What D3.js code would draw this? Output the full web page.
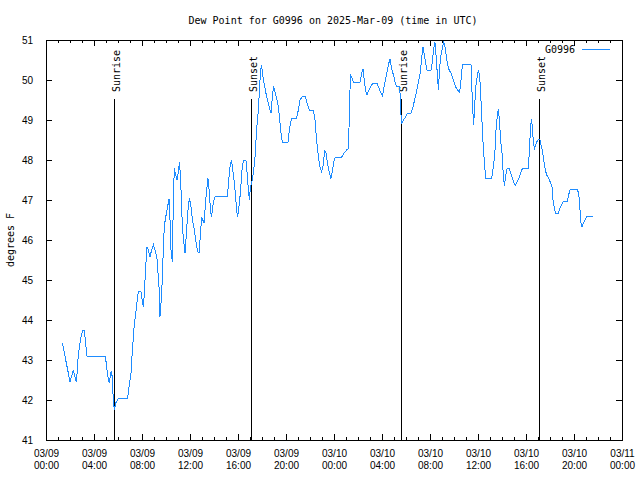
<!DOCTYPE html>
<html>
<head>
<meta charset="utf-8">
<script src="https://cdn.jsdelivr.net/npm/d3@7"></script>
<style>
  body { margin: 0; background: #fff; }
  svg { display: block; font-family: "DejaVu Sans Mono", monospace; font-size: 10px; }
  .domain { display: none; }
</style>
</head>
<body>
<svg id="chart" width="640" height="480"></svg>
<script>
// minutes after 2025-03-09 00:00 UTC
const minutes = [
  82, 120, 137, 148, 153, 158, 165, 172, 182, 192, 198, 205, 297, 303, 312, 317, 323, 328, 332, 337,
  342, 348, 362, 408, 415, 425, 432, 442, 450, 458, 462, 475, 482, 487, 492, 498, 505, 512, 520, 528,
  537, 545, 555, 565, 570, 575, 582, 588, 595, 602, 608, 615, 618, 625, 632, 637, 642, 648, 655, 662,
  668, 675, 682, 688, 695, 702, 712, 718, 725, 732, 742, 748, 758, 765, 772, 778, 790, 800, 810, 817,
  823, 828, 837, 845, 907, 913, 920, 927, 933, 940, 947, 953, 958, 967, 973, 980, 987, 1000, 1007, 1012,
  1017, 1022, 1028, 1037, 1045, 1053, 1062, 1067, 1073, 1078, 1083, 1090, 1097, 1103, 1112, 1120, 1125, 1132, 1138, 1145,
  1153, 1162, 1170, 1177, 1183, 1210, 1217, 1227, 1253, 1260, 1270, 1280, 1297, 1307, 1317, 1337, 1345, 1353, 1362, 1370,
  1378, 1387, 1393, 1400, 1407, 1417, 1425, 1433, 1442, 1450, 1478, 1490, 1503, 1512, 1515, 1522, 1528, 1537, 1570, 1578,
  1585, 1592, 1598, 1605, 1615, 1628, 1635, 1655, 1662, 1672, 1682, 1692, 1702, 1712, 1720, 1728, 1737, 1745, 1753, 1767,
  1770, 1775, 1778, 1787, 1798, 1808, 1825, 1835, 1845, 1853, 1862, 1872, 1878, 1885, 1892, 1898, 1905, 1925, 1932, 1938,
  1945, 1952, 1958, 1962, 1968, 1975, 1982, 1988, 1995, 2003, 2012, 2025, 2037, 2048, 2058, 2068, 2075, 2082, 2125, 2128,
  2133, 2138, 2142, 2148, 2157, 2163, 2170, 2177, 2183, 2188, 2195, 2200, 2228, 2240, 2245, 2250, 2257, 2262, 2267, 2273,
  2280, 2287, 2292, 2297, 2303, 2308, 2317, 2323, 2332, 2340, 2347, 2357, 2367, 2375, 2383, 2412, 2417, 2422, 2427, 2432,
  2437, 2442, 2448, 2455, 2463, 2470, 2477, 2483, 2490, 2497, 2503, 2513, 2523, 2530, 2535, 2542, 2547, 2562, 2570, 2578,
  2587, 2607, 2613, 2622, 2658, 2665, 2670, 2675, 2680, 2687, 2695, 2705, 2737
];
const dewPoint = [
  43.42, 42.46, 42.75, 42.5, 42.46, 42.92, 43.25, 43.5, 43.73, 43.73, 43.42, 43.1, 43.1, 42.83, 42.5, 42.42, 42.67, 42.73, 42.5, 41.92,
  41.75, 41.92, 42.04, 42.04, 42.33, 42.67, 43.25, 43.92, 44.21, 44.58, 44.71, 44.71, 44.46, 44.33, 44.67, 45.29, 45.83, 45.75, 45.58, 45.75,
  45.88, 45.75, 45.54, 44.83, 44.08, 44.42, 45.04, 46.04, 46.46, 46.67, 46.83, 47.02, 46.83, 45.75, 45.46, 47.13, 47.79, 47.63, 47.5, 47.71,
  47.96, 47.25, 46.33, 46.0, 45.67, 46.17, 46.88, 47.04, 46.83, 46.5, 46.25, 46.0, 45.71, 45.67, 46.12, 46.58, 46.42, 47.08, 47.54, 47.17,
  46.71, 46.58, 46.96, 47.08, 47.08, 47.46, 47.83, 48.0, 47.79, 47.5, 47.17, 46.75, 46.58, 46.92, 47.25, 47.75, 47.98, 47.98, 47.58, 47.25,
  47.0, 47.33, 47.42, 47.67, 48.08, 48.75, 49.25, 49.75, 50.25, 50.38, 50.13, 49.92, 49.75, 49.58, 49.42, 49.25, 49.17, 49.58, 49.85, 49.71,
  49.54, 49.33, 48.92, 48.58, 48.44, 48.44, 48.75, 49.04, 49.04, 49.21, 49.5, 49.58, 49.58, 49.38, 49.25, 49.25, 49.0, 48.5, 48.08, 47.83,
  47.71, 47.88, 48.25, 48.17, 47.92, 47.67, 47.54, 47.75, 48.04, 48.07, 48.07, 48.17, 48.25, 48.29, 48.79, 50.13, 50.08, 49.94, 49.94, 50.17,
  50.28, 49.96, 49.73, 49.63, 49.75, 49.88, 49.92, 49.92, 49.83, 49.71, 49.6, 49.88, 50.13, 50.38, 50.53, 50.29, 50.13, 49.96, 49.83, 49.83,
  49.67, 49.13, 48.89, 49.0, 49.08, 49.17, 49.17, 49.33, 49.54, 49.71, 49.96, 50.21, 50.54, 50.83, 50.63, 50.42, 50.25, 50.25, 50.46, 50.79,
  50.94, 50.5, 50.04, 49.75, 50.29, 50.63, 50.79, 50.96, 50.83, 50.54, 50.29, 50.17, 50.0, 49.83, 49.75, 49.69, 50.0, 50.38, 50.38, 49.96,
  49.33, 48.88, 49.21, 49.79, 50.13, 50.25, 49.96, 49.29, 48.63, 48.21, 47.75, 47.53, 47.53, 47.96, 48.25, 48.75, 49.13, 49.27, 49.0, 48.5,
  48.17, 47.58, 47.36, 47.54, 47.75, 47.79, 47.78, 47.67, 47.54, 47.43, 47.36, 47.46, 47.58, 47.71, 47.79, 47.79, 48.25, 48.75, 49.02, 48.83,
  48.42, 48.29, 48.38, 48.46, 48.52, 48.5, 48.33, 48.21, 47.96, 47.75, 47.63, 47.54, 47.43, 47.33, 47.0, 46.79, 46.67, 46.67, 46.79, 46.88,
  46.96, 46.96, 47.13, 47.27, 47.27, 47.08, 46.75, 46.42, 46.32, 46.42, 46.5, 46.6, 46.6
];

const eventLabels = ["Sunrise", "Sunset", "Sunrise", "Sunset"];
const eventTimes = ["2025-03-09T05:42Z", "2025-03-09T17:06Z", "2025-03-10T05:36Z", "2025-03-10T17:06Z"];

const yTicks = [41, 42, 43, 44, 45, 46, 47, 48, 49, 50, 51];

const start = Date.UTC(2025, 2, 9);
const data = minutes.map((m, i) => ({ t: new Date(start + m * 60000), v: dewPoint[i] }));

const plot = { left: 46, right: 622, top: 40, bottom: 440 };
const svg = d3.select('#chart');

const x = d3.scaleUtc()
  .domain([new Date(start), new Date(Date.UTC(2025, 2, 11))])
  .range([plot.left, plot.right]);
const y = d3.scaleLinear().domain([41, 51]).range([plot.bottom, plot.top]);

const endPlus = new Date(+x.domain()[1] + 1);
const majorTicks = d3.utcHour.every(4).range(x.domain()[0], endPlus);
const minorTicks = d3.utcHour.every(1).range(x.domain()[0], endPlus);

// frame
svg.append('rect')
  .attr('x', plot.left + 0.5).attr('y', plot.top + 0.5)
  .attr('width', plot.right - plot.left).attr('height', plot.bottom - plot.top)
  .attr('fill', 'none').attr('stroke', '#000').attr('shape-rendering', 'crispEdges');

// x ticks, inward, mirrored on top
const fmtDay = d3.utcFormat('%m/%d');
const fmtHour = d3.utcFormat('%H:%M');

svg.append('g').attr('transform', `translate(0,${plot.bottom})`)
  .call(d3.axisBottom(x).tickValues(minorTicks).tickSize(-3).tickFormat(''));
const xAxis = svg.append('g').attr('transform', `translate(0,${plot.bottom})`)
  .call(d3.axisBottom(x).tickValues(majorTicks).tickSize(-6).tickFormat(''));
xAxis.selectAll('.tick text').remove();
xAxis.selectAll('.tick').append('text')
  .attr('fill', '#000').attr('text-anchor', 'middle')
  .each(function (d) {
    const t = d3.select(this);
    t.append('tspan').attr('x', 0).attr('y', 17).text(fmtDay(d));
    t.append('tspan').attr('x', 0).attr('y', 29).text(fmtHour(d));
  });

svg.append('g').attr('transform', `translate(0,${plot.top})`)
  .call(d3.axisTop(x).tickValues(minorTicks).tickSize(-3).tickFormat(''));
svg.append('g').attr('transform', `translate(0,${plot.top})`)
  .call(d3.axisTop(x).tickValues(majorTicks).tickSize(-6).tickFormat(''));

// y ticks
svg.append('g').attr('transform', `translate(${plot.left},0)`)
  .call(d3.axisLeft(y).tickValues(yTicks).tickSize(-6).tickPadding(13).tickFormat(d3.format('d')))
  .selectAll('text').attr('fill', '#000').attr('font-size', 10);
svg.append('g').attr('transform', `translate(${plot.right},0)`)
  .call(d3.axisRight(y).tickValues(yTicks).tickSize(-6).tickFormat(''));

svg.selectAll('.tick line').attr('stroke', '#000').attr('shape-rendering', 'crispEdges');

// sunrise / sunset markers
eventTimes.forEach((s, i) => {
  const ex = Math.round(x(new Date(s))) + 0.5;
  svg.append('line')
    .attr('x1', ex).attr('x2', ex).attr('y1', 99).attr('y2', plot.bottom)
    .attr('stroke', '#000').attr('shape-rendering', 'crispEdges');
  svg.append('text')
    .attr('transform', `translate(${ex + 5},92) rotate(-90)`)
    .attr('fill', '#000')
    .text(eventLabels[i]);
});

// series
const line = d3.line().x(d => x(d.t)).y(d => y(d.v));
svg.append('path')
  .datum(data)
  .attr('d', line)
  .attr('fill', 'none')
  .attr('stroke', '#1e8cff')
  .attr('stroke-width', 1)
  .attr('shape-rendering', 'crispEdges');

// legend
svg.append('text').attr('x', 575).attr('y', 53).attr('text-anchor', 'end').attr('fill', '#000').text('G0996');
svg.append('line').attr('x1', 582).attr('x2', 610).attr('y1', 49.5).attr('y2', 49.5)
  .attr('stroke', '#1e8cff').attr('stroke-width', 1).attr('shape-rendering', 'crispEdges');

// title and y label
svg.append('text').attr('x', 333).attr('y', 24).attr('text-anchor', 'middle').attr('fill', '#000')
  .text('Dew Point for G0996 on 2025-Mar-09 (time in UTC)');
svg.append('text')
  .attr('transform', 'translate(14,240) rotate(-90)')
  .attr('text-anchor', 'middle').attr('fill', '#000')
  .text('degrees F');
</script>
</body>
</html>
